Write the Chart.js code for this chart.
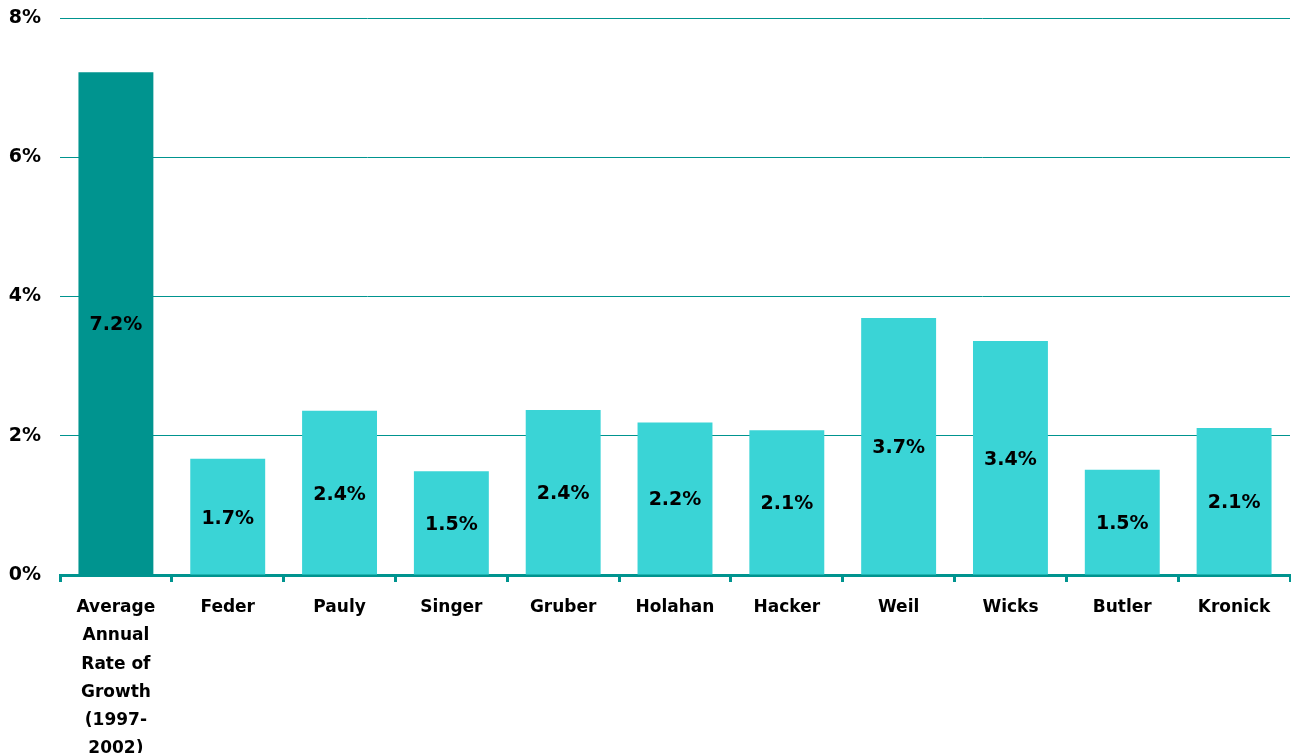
<!DOCTYPE html>
<html>
<head>
<meta charset="utf-8">
<script src="https://cdn.jsdelivr.net/npm/chart.js@4.4.0/dist/chart.umd.min.js"></script>
<style>
  html, body { margin: 0; padding: 0; background: #fff; }
  #wrap { width: 1291px; height: 753px; }
</style>
</head>
<body>
<div id="wrap"><canvas id="chart-1"></canvas></div>
<script>
const categories = [
    ['Average', 'Annual', 'Rate of', 'Growth', '(1997-', '2002)'],
    'Feder', 'Pauly', 'Singer', 'Gruber', 'Holahan', 'Hacker', 'Weil', 'Wicks', 'Butler', 'Kronick'
];
const growthValues = [7.22, 1.67, 2.36, 1.49, 2.37, 2.19, 2.08, 3.69, 3.36, 1.51, 2.11];
const valueLabels = ['7.2%', '1.7%', '2.4%', '1.5%', '2.4%', '2.2%', '2.1%', '3.7%', '3.4%', '1.5%', '2.1%'];
const yTicks = [0, 2, 4, 6, 8];

const teal = '#00948f';
const cyan = '#3ad4d6';

// labels in the middle of each bar
const middleLabels = {
    id: 'middleLabels',
    afterDatasetsDraw(chart) {
        const ctx = chart.ctx;
        const meta = chart.getDatasetMeta(0);
        ctx.save();
        ctx.font = 'bold 19px "DejaVu Sans"';
        ctx.fillStyle = '#000';
        ctx.textAlign = 'center';
        ctx.textBaseline = 'middle';
        meta.data.forEach(function(bar, i) {
            const mid = (bar.y + bar.base) / 2;
            ctx.fillText(valueLabels[i], bar.x, mid + 2);
        });
        ctx.restore();
    }
};

Chart.defaults.font.family = '"DejaVu Sans"';
Chart.defaults.font.weight = 'bold';
Chart.defaults.color = '#000';

const bar1 = new Chart(document.getElementById('chart-1'), {
    type: 'bar',
    data: {
        labels: categories,
        datasets: [{
            data: growthValues,
            backgroundColor: growthValues.map(function(v, i) { return i === 0 ? teal : cyan; }),
            borderWidth: 0,
            categoryPercentage: 1,
            barPercentage: 0.67
        }]
    },
    options: {
        responsive: true,
        maintainAspectRatio: false,
        animation: false,
        layout: { padding: { top: 18, right: 1, left: 0, bottom: 0 } },
        plugins: {
            legend: { display: false },
            tooltip: { enabled: false }
        },
        scales: {
            x: {
                afterFit(axis) {
                    axis.height = 178;
                    axis.paddingTop = 0;
                    axis.paddingBottom = 0;
                },
                grid: {
                    display: true,
                    offset: true,
                    drawOnChartArea: false,
                    drawTicks: true,
                    tickLength: 7,
                    color: teal,
                    lineWidth: 3
                },
                border: { display: true, color: teal, width: 3 },
                ticks: {
                    font: { size: 17, weight: 'bold', lineHeight: 1.65 },
                    maxRotation: 0,
                    autoSkip: false,
                    padding: 12
                }
            },
            y: {
                min: 0,
                max: 8,
                afterFit(axis) {
                    axis.width = 60;
                    axis.paddingTop = 0;
                    axis.paddingBottom = 0;
                },
                afterBuildTicks(axis) {
                    axis.ticks = yTicks.map(function(v) { return { value: v }; });
                },
                grid: {
                    color: teal,
                    lineWidth: 1,
                    drawTicks: false
                },
                border: { display: false },
                ticks: {
                    font: { size: 19, weight: 'bold' },
                    padding: 19,
                    callback: function(value) { return value + '%'; }
                }
            }
        }
    },
    plugins: [middleLabels]
});
</script>
</body>
</html>
